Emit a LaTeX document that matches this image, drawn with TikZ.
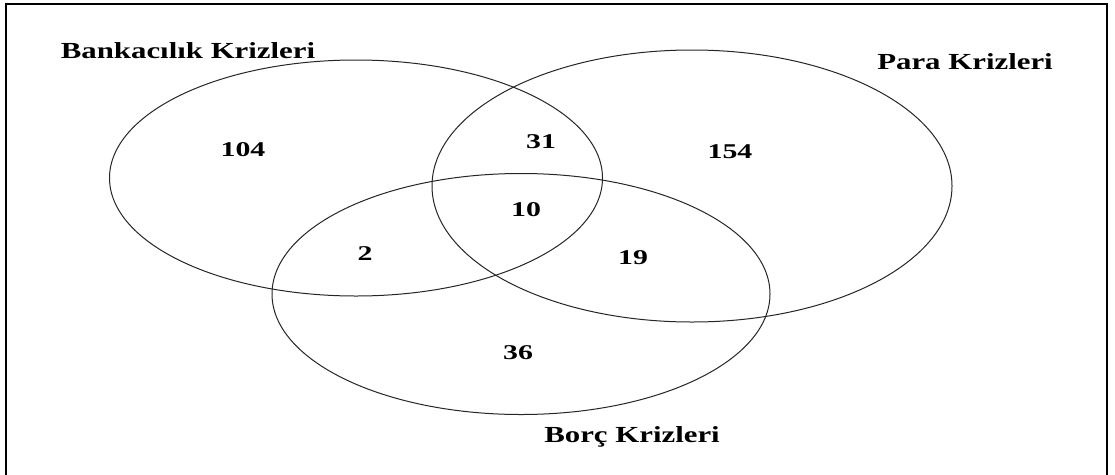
\documentclass[tikz,border=0pt]{standalone}
\usepackage{fontspec}
\usepackage{graphicx}
\setmainfont{Liberation Serif}
\usetikzlibrary{shapes.geometric}
\newcommand{\widetext}[2]{\scalebox{#1}[1]{#2}}
\begin{document}
\begin{tikzpicture}[x=1pt,y=-1pt,
  setel/.style={draw=black!85, line width=1pt, ellipse, inner sep=0pt},
  lab/.style={font=\fontsize{23}{25}\selectfont\bfseries, inner sep=0pt},
  num/.style={font=\fontsize{21}{23}\selectfont\bfseries, inner sep=0pt}]
\useasboundingbox (0,0) rectangle (1115,474);
\clip (0,0) rectangle (1115,474);
\fill[white] (0,0) rectangle (1115,474);
\draw[line width=2pt] (6,4) rectangle (1107,490);
\node[setel, minimum width=493pt, minimum height=236pt] (bank) at (356,178) {};
\node[setel, minimum width=520pt, minimum height=272pt] (para) at (692,186) {};
\node[setel, minimum width=498pt, minimum height=241pt] (borc) at (521,294) {};
\node[lab] (lbank) at (188,51) {\widetext{1.34}{Bankacılık Krizleri}};
\node[lab] (lpara) at (965,62) {\widetext{1.34}{Para Krizleri}};
\node[lab] (lborc) at (632,437) {\widetext{1.34}{Borç Krizleri}};
\node[num] (n104) at (243,150) {\widetext{1.42}{104}};
\node[num] (n31) at (541,142) {\widetext{1.42}{31}};
\node[num] (n154) at (730,152) {\widetext{1.42}{154}};
\node[num] (n10) at (526,210) {\widetext{1.42}{10}};
\node[num] (n2) at (365,254) {\widetext{1.42}{2}};
\node[num] (n19) at (633,258) {\widetext{1.42}{19}};
\node[num] (n36) at (518,353) {\widetext{1.42}{36}};
\end{tikzpicture}
\end{document}
